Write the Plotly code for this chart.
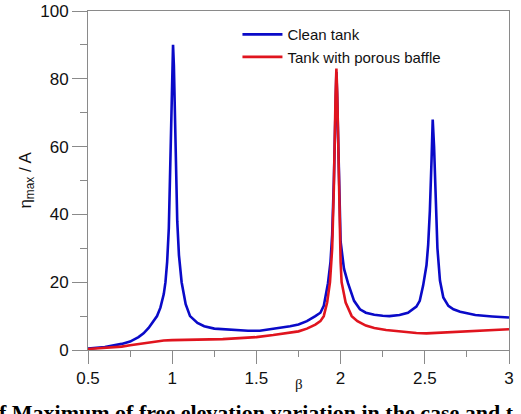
import plotly.graph_objects as go

# ---- data ----
beta_clean = [0.50, 0.60, 0.70, 0.75, 0.80, 0.83, 0.86, 0.89, 0.91, 0.93, 0.95, 0.96, 0.97, 0.98, 0.99,
              1.00, 1.005, 1.01, 1.02, 1.03, 1.04, 1.056, 1.08, 1.106, 1.15, 1.19, 1.25, 1.35, 1.45, 1.52,
              1.60, 1.70, 1.75, 1.80, 1.85, 1.88, 1.90, 1.925, 1.94, 1.95, 1.96, 1.97, 1.975, 1.98, 1.99,
              2.00, 2.02, 2.044, 2.08, 2.115, 2.15, 2.20, 2.25, 2.29, 2.35, 2.40, 2.45, 2.47, 2.49, 2.51,
              2.52, 2.53, 2.54, 2.547, 2.555, 2.565, 2.575, 2.59, 2.61, 2.64, 2.67, 2.71, 2.75, 2.80,
              2.90, 3.00]
eta_clean = [0.4, 0.9, 1.8, 2.5, 3.8, 4.9, 6.5, 8.5, 10.0, 12.5, 16.5, 20.0, 26.0, 36.0, 55.0,
             82.0, 90.0, 84.0, 56.0, 38.0, 28.0, 20.0, 13.5, 10.0, 8.0, 7.0, 6.3, 5.9, 5.7, 5.7,
             6.2, 7.0, 7.5, 8.5, 10.0, 11.0, 13.0, 19.7, 26.0, 34.0, 50.0, 74.0, 82.0, 74.0, 48.0,
             32.0, 24.0, 19.7, 14.5, 12.0, 11.0, 10.4, 10.1, 10.0, 10.3, 11.0, 12.8, 14.5, 19.0, 25.0,
             31.0, 41.0, 56.0, 68.0, 60.0, 42.0, 30.0, 20.5, 15.5, 13.0, 12.0, 11.3, 10.8, 10.3,
             9.9, 9.6]

beta_baffle = [0.50, 0.60, 0.70, 0.75, 0.80, 0.85, 0.90, 0.95, 1.00, 1.10, 1.20, 1.30, 1.40, 1.50,
               1.60, 1.70, 1.75, 1.80, 1.85, 1.88, 1.90, 1.92, 1.937, 1.95, 1.96, 1.97, 1.975, 1.98,
               1.99, 2.00, 2.006, 2.03, 2.066, 2.10, 2.15, 2.20, 2.27, 2.35, 2.45, 2.51, 2.60, 2.70,
               2.80, 2.90, 3.00]
eta_baffle = [0.3, 0.6, 1.0, 1.4, 1.8, 2.2, 2.6, 2.8, 2.9, 3.0, 3.0, 3.2, 3.5, 3.8,
              4.4, 5.0, 5.5, 6.3, 7.5, 8.5, 10.0, 14.0, 20.0, 30.0, 48.0, 75.0, 83.0, 76.0,
              45.0, 26.0, 20.0, 14.0, 10.0, 8.5, 7.2, 6.5, 5.9, 5.4, 5.0, 4.9, 5.1, 5.4,
              5.6, 5.8, 6.1]

series_names = ["Clean tank", "Tank with porous baffle"]
x_ticks = [0.5, 1, 1.5, 2, 2.5, 3]
x_tick_text = ["0.5", "1", "1.5", "2", "2.5", "3"]
y_ticks = [0, 20, 40, 60, 80, 100]
caption = "f Maximum of free elevation variation in the case and t"

fig = go.Figure()
fig.add_trace(go.Scatter(x=beta_clean, y=eta_clean, mode="lines", name=series_names[0],
                         line=dict(color="#0a0ac8", width=2.6)))
fig.add_trace(go.Scatter(x=beta_baffle, y=eta_baffle, mode="lines", name=series_names[1],
                         line=dict(color="#e0141e", width=2.6)))

axis_common = dict(showline=True, linecolor="#8a8a8a", linewidth=1, mirror=True,
                   ticks="outside", tickcolor="#8a8a8a", tickwidth=1, showgrid=False,
                   zeroline=False, automargin=False,
                   tickfont=dict(family="Arial, Liberation Sans", size=17, color="#111"))

fig.update_xaxes(range=[0.5, 3], tickvals=x_ticks, ticktext=x_tick_text, ticklen=13,
                 minor=dict(dtick=0.25, ticks="outside", ticklen=6, tickcolor="#8a8a8a", tick0=0.5),
                 **axis_common)
fig.update_yaxes(range=[0, 100], tickvals=y_ticks, ticklen=15,
                 minor=dict(dtick=10, ticks="outside", ticklen=7, tickcolor="#8a8a8a", tick0=0),
                 **axis_common)

fig.update_layout(
    width=521, height=414,
    margin=dict(l=88, r=12, t=11, b=64),
    paper_bgcolor="white", plot_bgcolor="white",
    showlegend=True,
    legend=dict(x=0.355, y=0.979, xanchor="left", yanchor="top", bgcolor="rgba(0,0,0,0)",
                font=dict(family="Arial, Liberation Sans", size=15, color="#111"),
                itemwidth=40, tracegroupgap=0),
    annotations=[
        dict(text="η<sub>max</sub> / A", xref="paper", yref="paper", x=-0.147, y=0.5,
             xanchor="center", yanchor="middle", textangle=-90, showarrow=False,
             font=dict(family="Arial, Liberation Sans", size=17, color="#111")),
        dict(text="β", xref="paper", yref="paper", x=0.5, y=-0.1,
             xanchor="center", yanchor="middle", showarrow=False,
             font=dict(family="Liberation Serif, Times New Roman", size=15, color="#111")),
        dict(text="<b>" + caption + "</b>", xref="paper", yref="paper",
             x=-0.215, y=-0.142, xanchor="left", yanchor="top", showarrow=False,
             font=dict(family="Liberation Serif, Times New Roman", size=22, color="#000")),
    ],
)

fig.write_html("out.html")
